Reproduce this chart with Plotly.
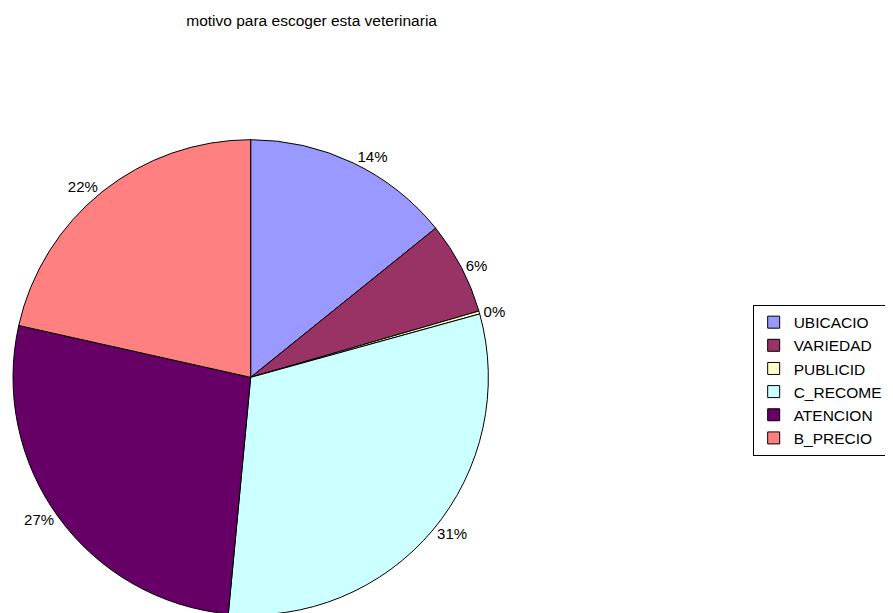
import plotly.graph_objects as go

# ── Data ──────────────────────────────────────────────────────────────────
motivos = ["UBICACIO", "VARIEDAD", "PUBLICID", "C_RECOME", "ATENCION", "B_PRECIO"]
porcentajes = [14.2, 6.3, 0.2, 30.8, 27.0, 21.5]
colores = ["#9999FF", "#993366", "#FFFFCC", "#CCFFFF", "#660066", "#FF8080"]

fig = go.Figure()

fig.add_trace(go.Pie(
    labels=motivos,
    values=porcentajes,
    sort=False,
    direction="clockwise",
    rotation=0,
    marker=dict(colors=colores, line=dict(color="#000000", width=1)),
    texttemplate="%{percent:.0%}",
    textposition="outside",
    textfont=dict(family="Liberation Sans, Arial", size=15, color="#000000"),
    domain=dict(x=[0.0, 0.5353], y=[0.0, 0.785]),
    hoverinfo="label+percent",
))

fig.update_layout(
    width=893,
    height=613,
    margin=dict(l=0, r=0, t=0, b=0),
    paper_bgcolor="#FFFFFF",
    plot_bgcolor="#FFFFFF",
    font=dict(family="Liberation Sans, Arial", size=15, color="#000000"),
    title=dict(
        text="motivo para escoger esta veterinaria",
        x=0.340, xanchor="center",
        y=0.98, yanchor="middle",
        font=dict(size=15.5, color="#000000"),
    ),
    legend=dict(
        x=0.985, xanchor="right",
        y=0.5122, yanchor="top",
        bordercolor="#000000",
        borderwidth=1,
        bgcolor="#FFFFFF",
        font=dict(size=15.5),
        tracegroupgap=0,
        itemwidth=30,
    ),
)

fig.write_html("out.html")
